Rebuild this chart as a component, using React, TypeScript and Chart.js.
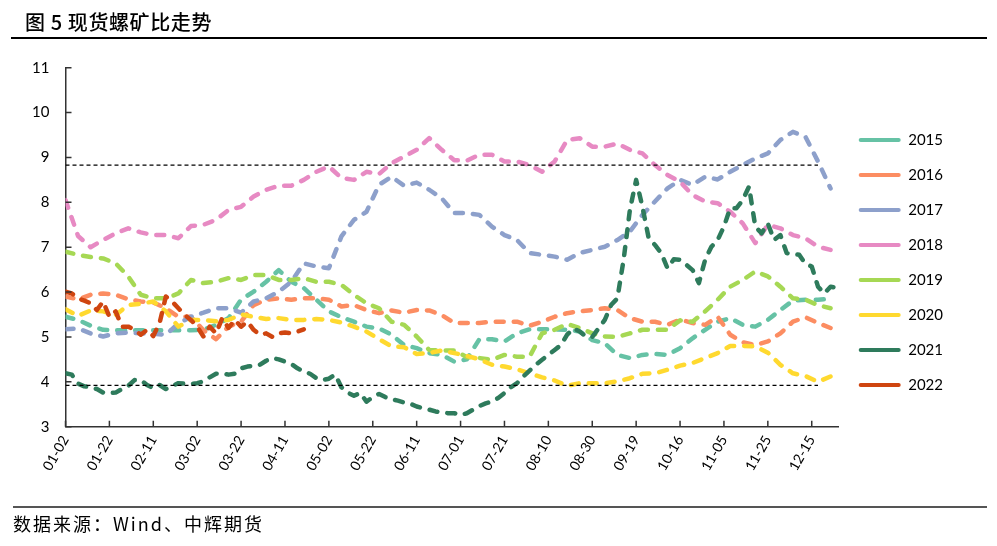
import React, { useEffect, useRef } from 'react';
import { Chart, registerables } from 'chart.js';

Chart.register(...registerables);

// ---- data ----
const TICK_LABELS = ['01-02', '01-22', '02-11', '03-02', '03-22', '04-11', '05-02', '05-22', '06-11',
  '07-01', '07-21', '08-10', '08-30', '09-19', '10-16', '11-05', '11-25', '12-15'];
const TICK_STEP = 14; // trading days between labelled ticks
const X_MAX = 246.6;

const SERIES_NAMES = ['2015', '2016', '2017', '2018', '2019', '2020', '2021', '2022'];
const COLORS = ['#66C2A5', '#FC8D62', '#8DA0CB', '#E78AC3', '#A6D854', '#FFD92F', '#2E7B5C', '#CF4510'];

// sampled every 4 trading days
const S2015 = [5.45, 5.38, 5.25, 5.16, 5.15, 5.15, 5.15, 5.15, 5.15, 5.15, 5.15,
  5.16, 5.27, 5.42, 5.83, 6.01, 6.23, 6.49, 6.23, 6.09, 5.83,
  5.57, 5.44, 5.34, 5.23, 5.19, 5.05, 4.82, 4.75, 4.64, 4.6,
  4.45, 4.5, 4.95, 4.95, 4.9, 5.08, 5.17, 5.17, 5.17, 5.16, 5.12,
  4.93, 4.86, 4.6, 4.53, 4.6, 4.62, 4.6, 4.75, 4.97, 5.16,
  5.34, 5.42, 5.27, 5.23, 5.38, 5.6, 5.81, 5.83, 5.83, 5.85];
const S2016 = [5.9, 5.84, 5.94, 5.97, 5.94, 5.84, 5.79, 5.77, 5.64, 5.45, 5.45,
  5.15, 4.95, 5.23, 5.34, 5.71, 5.83, 5.86, 5.83, 5.86, 5.86,
  5.83, 5.68, 5.71, 5.6, 5.53, 5.59, 5.54, 5.6, 5.59, 5.49,
  5.31, 5.31, 5.31, 5.34, 5.34, 5.34, 5.25, 5.34, 5.45, 5.53, 5.57,
  5.6, 5.64, 5.6, 5.42, 5.34, 5.34, 5.27, 5.39, 5.31, 5.27,
  5.45, 5.05, 4.88, 4.82, 4.9, 5.08, 5.34, 5.44, 5.31, 5.2];
const S2017 = [5.17, 5.19, 5.08, 5.01, 5.08, 5.1, 5.08, 5.07, 5.05, 5.3, 5.45,
  5.54, 5.64, 5.64, 5.54, 5.79, 5.86, 6.01, 6.23, 6.64, 6.57,
  6.53, 7.24, 7.61, 7.79, 8.39, 8.57, 8.37, 8.44, 8.28, 8.09,
  7.76, 7.76, 7.72, 7.46, 7.27, 7.16, 6.87, 6.83, 6.79, 6.72, 6.87,
  6.94, 7.01, 7.16, 7.35, 7.72, 8.02, 8.31, 8.5, 8.39, 8.57,
  8.51, 8.68, 8.83, 8.98, 9.09, 9.39, 9.57, 9.46, 8.91, 8.31];
const S2018 = [8.05, 7.25, 7.0, 7.16, 7.31, 7.42, 7.33, 7.27, 7.27, 7.2, 7.47,
  7.5, 7.61, 7.83, 7.9, 8.13, 8.28, 8.37, 8.37, 8.5, 8.68,
  8.8, 8.54, 8.5, 8.68, 8.63, 8.87, 9.02, 9.17, 9.43, 9.17,
  8.94, 8.93, 9.06, 9.06, 8.91, 8.91, 8.83, 8.68, 8.91, 9.39, 9.43,
  9.24, 9.24, 9.31, 9.17, 9.09, 8.83, 8.61, 8.46, 8.16, 8.02,
  7.98, 7.79, 7.53, 7.09, 7.5, 7.42, 7.27, 7.2, 7.01, 6.94];
const S2019 = [6.9, 6.83, 6.78, 6.75, 6.64, 6.35, 5.94, 5.86, 5.86, 5.97, 6.27,
  6.2, 6.23, 6.31, 6.27, 6.38, 6.38, 6.27, 6.27, 6.31, 6.23,
  6.23, 6.16, 5.94, 5.75, 5.64, 5.34, 5.27, 5.01, 4.71, 4.7,
  4.7, 4.55, 4.53, 4.49, 4.6, 4.56, 4.56, 5.08, 5.16, 5.29, 5.2,
  5.08, 5.01, 5.0, 5.08, 5.16, 5.16, 5.16, 5.37, 5.34, 5.57,
  5.83, 6.12, 6.27, 6.46, 6.35, 6.12, 5.86, 5.83, 5.71, 5.64];
const S2020 = [5.62, 5.47, 5.59, 5.57, 5.49, 5.71, 5.74, 5.79, 5.57, 5.23, 5.38,
  5.38, 5.35, 5.38, 5.5, 5.45, 5.4, 5.42, 5.38, 5.38, 5.4,
  5.38, 5.32, 5.23, 5.12, 4.95, 4.79, 4.77, 4.62, 4.64, 4.7,
  4.64, 4.58, 4.5, 4.38, 4.34, 4.28, 4.19, 4.1, 4.03, 3.91, 3.97,
  3.97, 3.97, 4.01, 4.08, 4.18, 4.19, 4.27, 4.36, 4.42, 4.53,
  4.64, 4.8, 4.8, 4.79, 4.65, 4.38, 4.19, 4.13, 4.0, 4.12];
// sampled every 2 trading days
const S2021 = [4.19, 4.16, 3.96, 3.9, 3.88, 3.84, 3.76, 3.75, 3.76, 3.84, 3.91, 4.04, 4.04, 3.93, 3.86, 3.93, 3.84, 3.91, 3.97, 3.96, 3.95,
  3.97, 4.01, 4.1, 4.18, 4.19, 4.16, 4.18, 4.3, 4.34, 4.36, 4.38, 4.47, 4.53, 4.5, 4.45, 4.4, 4.3, 4.23, 4.18, 4.08, 4.04,
  4.07, 4.16, 3.88, 3.76, 3.69, 3.75, 3.56, 3.66, 3.73, 3.66, 3.61, 3.58, 3.54, 3.51, 3.45, 3.41, 3.38, 3.34, 3.32, 3.3, 3.3,
  3.26, 3.3, 3.38, 3.46, 3.52, 3.56, 3.64, 3.75, 3.88, 3.97, 4.12, 4.25, 4.38, 4.49, 4.6, 4.71, 4.82, 5.05, 5.19, 5.12,
  5.01, 5.0, 5.19, 5.38, 5.71, 5.86, 6.72, 7.83, 8.5, 7.9, 7.2, 7.05, 6.87, 6.53, 6.73, 6.72, 6.61, 6.49, 6.2, 6.72,
  7.01, 7.16, 7.46, 7.87, 7.87, 8.05, 8.35, 7.46, 7.31, 7.53, 7.16, 7.27, 6.87, 6.85, 6.83, 6.63, 6.57, 6.12, 5.97, 6.12, 6.09];
const S2022 = [6.01, 5.97, 5.86, 5.81, 5.75, 5.6, 5.79, 5.45, 5.57, 5.23, 5.23, 5.16, 5.05, 5.16, 5.02, 5.31, 5.9, 5.79,
  5.64, 5.49, 5.38, 5.23, 5.01, 5.23, 5.08, 5.42, 5.2, 5.38, 5.23, 5.34, 5.16, 5.05, 5.08, 5.0, 5.08, 5.1, 5.08, 5.12, 5.17];
const SERIES_STEPS = [4, 4, 4, 4, 4, 4, 2, 2];

const REF_HIGH = 8.83;
const REF_LOW = 3.92;
const REF_END = 240;

const FONT = 'Lato, "Open Sans", sans-serif';
const CJK = '"Noto Sans CJK SC", sans-serif';

export default function App() {
  const canvasRef = useRef<HTMLCanvasElement>(null);

  useEffect(() => {
    const canvas = canvasRef.current;
    if (!canvas) return;
    const all = [S2015, S2016, S2017, S2018, S2019, S2020, S2021, S2022];
    const datasets: any[] = all.map((vals, i) => ({
      label: SERIES_NAMES[i],
      data: vals.map((y, j) => ({ x: j * SERIES_STEPS[i], y })),
      borderColor: COLORS[i],
      backgroundColor: COLORS[i],
      borderWidth: 4.5,
      borderDash: [8, 10],
      borderCapStyle: 'round',
      borderJoinStyle: 'round',
      pointRadius: 0,
      pointHoverRadius: 0,
      tension: 0,
      fill: false,
      order: 8 - i,
    }));
    const refLine = (y: number) => ({
      label: '',
      data: [{ x: 0, y }, { x: REF_END, y }],
      borderColor: '#000',
      borderWidth: 1.3,
      borderDash: [4, 3],
      pointRadius: 0,
      fill: false,
      order: 0,
    });
    datasets.push(refLine(REF_HIGH), refLine(REF_LOW));

    const innerTicks = {
      id: 'innerTicks',
      afterDraw(chart: any) {
        const { ctx, chartArea: a, scales } = chart;
        const xs = scales.x;
        const ys = scales.y;
        ctx.save();
        ctx.strokeStyle = '#333';
        ctx.lineWidth = 1.5;
        ctx.beginPath();
        ys.ticks.forEach((t: any) => {
          const py = ys.getPixelForValue(t.value);
          ctx.moveTo(a.left, py);
          ctx.lineTo(a.left + 6, py);
        });
        TICK_LABELS.forEach((_, i) => {
          const px = xs.getPixelForValue(i * TICK_STEP);
          ctx.moveTo(px, a.bottom);
          ctx.lineTo(px, a.bottom - 6);
        });
        ctx.stroke();
        ctx.restore();
      },
    };

    const chart = new Chart(canvas, {
      type: 'line',
      data: { datasets },
      options: {
        responsive: false,
        animation: false,
        devicePixelRatio: 1,
        layout: { padding: { left: 0, right: 44, top: 67.7, bottom: 50 } },
        plugins: {
          tooltip: { enabled: false },
          legend: {
            position: 'right',
            align: 'start',
            title: { display: true, text: ' ', font: { size: 12 }, padding: { top: 30.4, bottom: 0 } },
            labels: {
              boxWidth: 42,
              boxHeight: 4,
              padding: 20,
              color: '#000',
              font: { family: FONT, size: 15 },
              generateLabels: (ch: any) =>
                ch.data.datasets.slice(0, 8).map((ds: any, i: number) => ({
                  text: ds.label,
                  fillStyle: ds.borderColor,
                  strokeStyle: ds.borderColor,
                  lineWidth: 0,
                  hidden: false,
                  datasetIndex: i,
                  fontColor: '#000',
                  borderRadius: 2,
                })),
            },
          },
        },
        scales: {
          x: {
            type: 'linear',
            min: 0,
            max: X_MAX,
            grid: { display: false, drawTicks: false },
            border: { display: true, color: '#333', width: 1.5 },
            afterBuildTicks: (s: any) => {
              s.ticks = TICK_LABELS.map((_, i) => ({ value: i * TICK_STEP }));
            },
            afterFit: (s: any) => {
              s.height = 546 - 50 - 426.7;
            },
            ticks: {
              autoSkip: false,
              minRotation: 60,
              maxRotation: 60,
              padding: 6,
              color: '#000',
              font: { family: FONT, size: 14 },
              callback: (v: any) => TICK_LABELS[Math.round(Number(v) / TICK_STEP)] ?? '',
            },
          },
          y: {
            min: 3,
            max: 11,
            grid: { display: false, drawTicks: false },
            border: { display: true, color: '#333', width: 1.5 },
            afterFit: (s: any) => {
              s.width = 65.5;
            },
            ticks: {
              stepSize: 1,
              padding: 16,
              color: '#000',
              font: { family: FONT, size: 15 },
            },
          },
        },
      },
      plugins: [innerTicks],
    } as any);
    return () => chart.destroy();
  }, []);

  return (
    <div style={{ position: 'absolute', left: 0, top: 0, width: 997, height: 546, background: '#fff', overflow: 'hidden' }}>
      <canvas ref={canvasRef} width={997} height={546} style={{ position: 'absolute', left: 0, top: 0, width: 997, height: 546 }} />
      <div style={{ position: 'absolute', left: 25, top: 8, fontFamily: CJK, fontSize: 20, fontWeight: 500, lineHeight: '28px', letterSpacing: 0.6, color: '#000', whiteSpace: 'nowrap' }}>
        图 5 现货螺矿比走势
      </div>
      <div style={{ position: 'absolute', left: 11, top: 37, width: 976, height: 2, background: '#000' }} />
      <div style={{ position: 'absolute', left: 13, top: 506, width: 974, height: 2, background: '#555' }} />
      <div style={{ position: 'absolute', left: 13, top: 509, fontFamily: CJK, fontSize: 18, lineHeight: '28px', letterSpacing: 2, color: '#000', whiteSpace: 'nowrap' }}>
        数据来源：Wind、中辉期货
      </div>
    </div>
  );
}
